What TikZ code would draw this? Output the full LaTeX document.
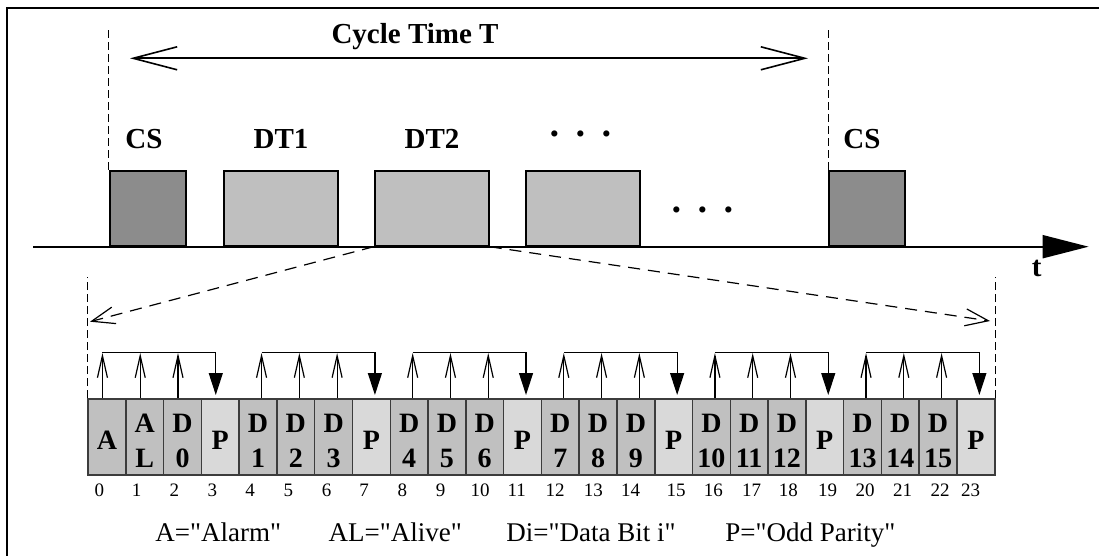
\documentclass[tikz,border=0pt]{standalone}
\usepackage{fontspec}
\setmainfont{Liberation Serif}
\usetikzlibrary{arrows.meta,calc}
\definecolor{csfill}{RGB}{140,140,140}
\definecolor{dtfill}{RGB}{191,191,191}
\definecolor{bitfill}{RGB}{192,192,192}
\definecolor{parfill}{RGB}{217,217,217}
\definecolor{cellline}{RGB}{60,60,60}
\newcommand\dq{\textquotedbl}
\begin{document}
\begin{tikzpicture}[x=0.5pt,y=-0.5pt,
  frame/.style={line width=1pt},
  slot/.style={draw, line width=1pt, anchor=south west, inner sep=0pt, minimum height=37.5pt},
  csbox/.style={slot, fill=csfill, minimum width=38pt},
  dtbox/.style={slot, fill=dtfill, minimum width=57pt},
  biglabel/.style={font=\fontsize{14.5}{17}\selectfont\bfseries, anchor=base, inner sep=0pt},
  dots/.style={font=\fontsize{19}{21}\selectfont\bfseries, inner sep=0pt},
  bitcell/.style={draw=cellline, line width=0.75pt, anchor=north west, inner sep=0pt,
    minimum width=18.89pt, minimum height=38pt},
  celltext/.style={font=\fontsize{14}{16}\selectfont\bfseries, anchor=base, inner sep=0pt},
  idx/.style={font=\fontsize{9.5}{11}\selectfont, inner sep=0pt},
  legend/.style={font=\fontsize{13.5}{16}\selectfont, anchor=base west, inner sep=0pt},
  guide/.style={line width=0.5pt, dash pattern=on 4pt off 2pt},
  zoomline/.style={line width=0.6pt, dash pattern=on 6pt off 4pt,
    -{Straight Barb[length=11.5pt,width=8.5pt]}},
  readarr/.style={line width=0.6pt, -{Straight Barb[length=11pt,width=5pt]}},
  writearr/.style={line width=0.6pt, -{Triangle[length=11pt,width=7pt]}},
]
\useasboundingbox (0,0) rectangle (1099,556);

% outer frame
\draw[frame] (7,570) -- (7,7.7) -- (1110,7.7);

% time axis
\coordinate (tstart) at (33,246.7);
\coordinate (tend) at (1088.6,246.7);
\draw[line width=1pt, -{Triangle[length=23pt,width=11.5pt]}] (tstart) -- (tend);
\node[biglabel] (tlab) at (1036.7,277) {t};

% frames on the bus
\node[csbox] (cs1) at (108.8,246.7) {};
\node[dtbox] (dt1) at (222.8,246.7) {};
\node[dtbox] (dt2) at (373.7,246.7) {};
\node[dtbox] (dt3) at (525,246.7) {};
\node[csbox] (cs2) at (828,246.7) {};

\node[biglabel] (cslab1) at (144,148.3) {CS};
\node[biglabel] (dtlab1) at (281,148.3) {DT1};
\node[biglabel] (dtlab2) at (432,148.3) {DT2};
\node[dots] (dotsup) at (581,138.3) {·\hspace{6.6pt}·\hspace{6.6pt}·};
\node[dots] (dotslow) at (702.6,214.3) {·\hspace{6.6pt}·\hspace{6.6pt}·};
\node[biglabel] (cslab2) at (862,148.3) {CS};

% cycle time
\draw[guide] (cs1.north west) -- ++(0,-143.7) coordinate (gl);
\draw[guide] (cs2.north west) -- ++(0,-143.7) coordinate (gr);
\coordinate (cyl) at (130,58.3);
\coordinate (cyr) at (808,58.3);
\draw[line width=0.8pt, {Straight Barb[length=22pt,width=11.5pt]}-{Straight Barb[length=22pt,width=11.5pt]}] (cyl) -- (cyr);
\node[biglabel] (cylab) at (415,43.3) {Cycle Time T};

% bit cells of one data telegram
\foreach \i in {0,...,23} {
  \pgfmathsetmacro\cx{87.3+37.78*\i}
  \pgfmathtruncatemacro\r{mod(\i,4)}
  \ifnum\r=3
    \node[bitcell, fill=parfill] (c\i) at (\cx,398) {};
  \else
    \node[bitcell, fill=bitfill] (c\i) at (\cx,398) {};
  \fi
}

% zoom from DT2 onto the bit cells
\draw[guide] (c0.north west) -- ++(0,-121);
\draw[guide] (c23.north east) -- ++(0,-121);
\coordinate (zl) at (90,321.7);
\coordinate (zr) at (990,321);
\draw[zoomline] (dt2.south west) -- (zl);
\draw[zoomline] (dt2.south east) -- (zr);

% cell contents
\foreach \i/\a in {0/A,3/P,7/P,11/P,15/P,19/P,23/P}
  \node[celltext] at ($(c\i.north)+(0,51)$) {\a};
\foreach \i/\a/\b in {1/A/L,2/D/0,4/D/1,5/D/2,6/D/3,8/D/4,9/D/5,10/D/6,
    12/D/7,13/D/8,14/D/9,16/D/10,17/D/11,18/D/12,20/D/13,21/D/14,22/D/15} {
  \node[celltext] at ($(c\i.north)+(0,34)$) {\a};
  \node[celltext] at ($(c\i.north)+(0,69)$) {\b};
}

% parity groups: three bits feed one parity bit
\foreach \g in {0,...,5} {
  \pgfmathtruncatemacro\ia{4*\g}
  \pgfmathtruncatemacro\ib{4*\g+1}
  \pgfmathtruncatemacro\ic{4*\g+2}
  \pgfmathtruncatemacro\ip{4*\g+3}
  \ifnum\g=0 \def\off{-4.5}\else \def\off{3.5}\fi
  \foreach \k in {\ia,\ib,\ic}
    \draw[readarr] ($(c\k.north)+(\off,0)$) -- ($(c\k.north)+(\off,-45)$);
  \draw[writearr] ($(c\ia.north)+(\off,-45.5)$) -| ($(c\ip.north)+(\off,-3)$);
}

% bit indices
\foreach \i/\x in {0/99.3,1/136.7,2/174.3,3/212.3,4/250,5/288.3,6/326.7,7/364,
    8/402.3,9/440.7,10/480,11/516.7,12/555,13/593.3,14/630.7,15/676,16/713.3,
    17/751.7,18/788.3,19/827.7,20/865,21/902.7,22/940,23/970.7}
  \node[idx] (n\i) at (\x,490.7) {\i};

% legend
\node[legend] (lga) at (155,541.7) {A=\dq Alarm\dq};
\node[legend] (lgal) at (328.3,541.7) {AL=\dq Alive\dq};
\node[legend] (lgd) at (506,541.7) {Di=\dq Data Bit i\dq};
\node[legend] (lgp) at (725,541.7) {P=\dq Odd Parity\dq};
\end{tikzpicture}
\end{document}
